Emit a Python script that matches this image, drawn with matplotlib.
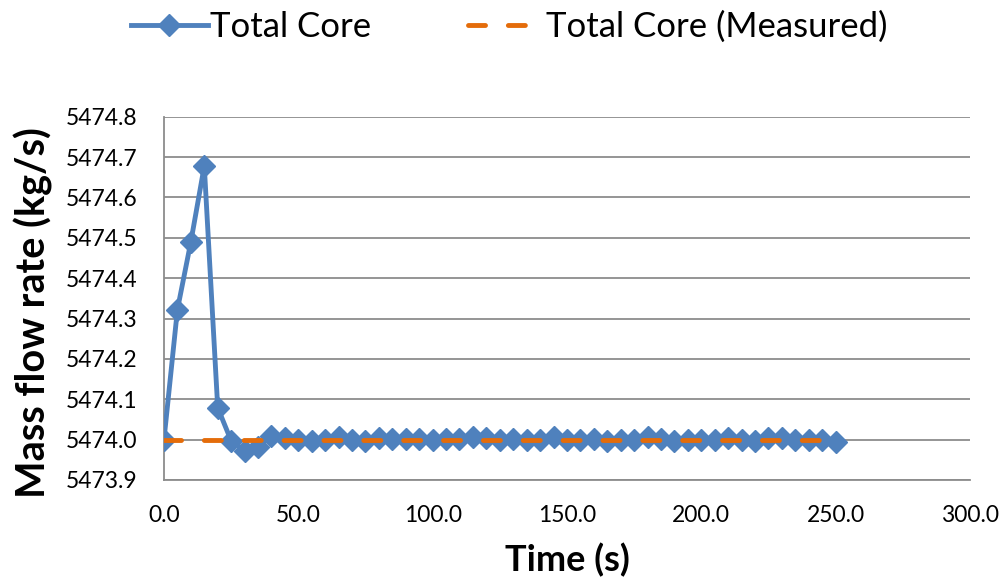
import matplotlib
matplotlib.use("Agg")
import matplotlib.pyplot as plt
import numpy as np
from matplotlib.ticker import FormatStrFormatter, MultipleLocator

plt.rcParams["font.family"] = ["Lato", "DejaVu Sans"]

# time (s)
time_s = list(range(0, 255, 5))

# computed total core mass flow (kg/s)
total_core = [
    5474.000, 5474.322, 5474.490, 5474.678, 5474.079, 5473.997, 5473.972, 5473.982,
    5474.010, 5474.004, 5473.998, 5473.996, 5473.999, 5474.006, 5473.999, 5473.997,
    5474.003, 5474.001, 5474.002, 5474.001, 5473.998, 5474.001, 5474.002, 5474.006,
    5474.003, 5474.000, 5474.002, 5474.000, 5473.999, 5474.006, 5473.999, 5474.000,
    5474.002, 5473.997, 5473.999, 5473.998, 5474.006, 5474.002, 5473.997, 5474.000,
    5473.999, 5474.000, 5474.005, 5473.999, 5473.997, 5474.004, 5474.003, 5473.999,
    5474.000, 5473.998, 5473.995,
]

# measured value
measured = [5474.0] * len(time_s)

blue = "#4F81BD"
orange = "#E46C0A"
grid_grey = "#8C8C8C"

fig = plt.figure(figsize=(10.03, 5.81), dpi=100)
ax = fig.add_axes([0.1635, 0.174, 0.8035, 0.625])

ax.plot(time_s, total_core, color=blue, linewidth=3.5, marker="D",
        markersize=11, markeredgecolor=blue, label="Total Core", zorder=3)
ax.plot(time_s, measured, color=orange, linewidth=3.5, linestyle=(0, (3.5, 4.7)),
        dash_capstyle="round", label="Total Core (Measured)", zorder=4)

ax.set_xlim(0, 300)
ax.set_ylim(5473.9, 5474.8)
ax.xaxis.set_major_locator(MultipleLocator(50))
ax.yaxis.set_major_locator(MultipleLocator(0.1))
ax.xaxis.set_major_formatter(FormatStrFormatter("%.1f"))
ax.yaxis.set_major_formatter(FormatStrFormatter("%.1f"))

ax.grid(axis="y", color=grid_grey, linewidth=1.3)
ax.set_axisbelow(True)
for side in ["top", "right"]:
    ax.spines[side].set_visible(False)
ax.spines["left"].set_color(grid_grey)
ax.spines["bottom"].set_color(grid_grey)
ax.spines["left"].set_linewidth(1.3)
ax.spines["bottom"].set_linewidth(1.3)
ax.tick_params(axis="y", length=0, labelsize=16.5, pad=19)
ax.tick_params(axis="x", length=0, labelsize=16.5, pad=18)

ax.set_xlabel("Time (s)", fontsize=26, fontweight="bold", labelpad=12)
ax.set_ylabel("Mass flow rate (kg/s)", fontsize=28.5, fontweight="bold")
ax.yaxis.set_label_coords(-0.138, 0.46)

fig.legend(loc="center", bbox_to_anchor=(0.508, 0.9535), ncol=2, frameon=False,
           fontsize=25, handlelength=2.2, columnspacing=2.8, handletextpad=0.06)

fig.savefig("out.png", dpi=100)
